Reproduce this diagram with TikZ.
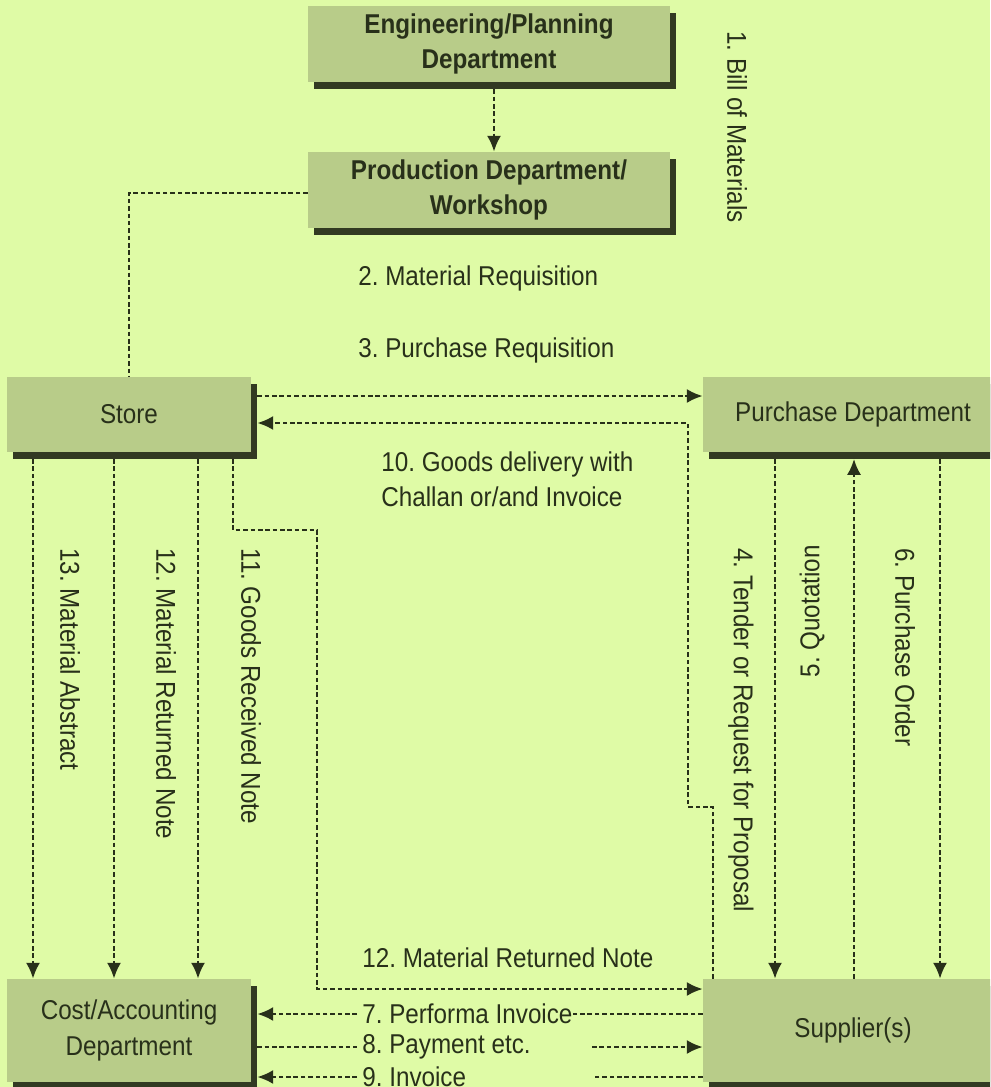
\documentclass[tikz,border=0pt]{standalone}
\usepackage{fontspec}
\setmainfont{Liberation Sans}[FakeStretch=0.89]
\usepackage{tikz}
\usetikzlibrary{positioning}
\usetikzlibrary{arrows.meta,shadows,calc}
\usepackage{xcolor}
\definecolor{bgcol}{RGB}{223,251,166}
\definecolor{boxcol}{RGB}{184,204,137}
\definecolor{shadecol}{RGB}{50,58,34}
\definecolor{inkcol}{RGB}{40,48,26}
\frenchspacing

\begin{document}
\begin{tikzpicture}[x=0.02cm,y=-0.02cm,
  font=\fontsize{15.5}{20}\selectfont,
  dept/.style={rectangle,fill=boxcol,text=inkcol,align=center,inner sep=0pt,
    drop shadow={shadow xshift=0.12cm,shadow yshift=-0.14cm,fill=shadecol,opacity=1}},
  head/.style={dept,font=\fontsize{15.5}{20}\selectfont\bfseries},
  flow/.style={draw=inkcol,line width=1.3pt,dash pattern=on 2.6pt off 1.6pt},
  tip/.style={flow,-{Latex[length=9pt,width=8pt]}},
  lbl/.style={text=inkcol,inner sep=0pt}]

\useasboundingbox (0,0) rectangle (990,1087);
\clip (0,0) rectangle (990,1087);
\fill[bgcol] (0,0) rectangle (990,1087);

\node[head,minimum width=7.24cm,minimum height=1.52cm] (eng) at (489,44) {Engineering/Planning\\Department};
\node[head,minimum width=7.24cm,minimum height=1.52cm] (prod) at (489,190) {Production Department/\\Workshop};
\node[dept,minimum width=4.88cm,minimum height=1.5cm] (store) at (129,414.5) {Store};
\node[dept,minimum width=6cm,minimum height=1.5cm] (purch) at (853,414.5) {Purchase Department};
\node[dept,minimum width=4.88cm,minimum height=2.06cm] (cost) at (129,1030.5) {Cost/Accounting\\Department};
\node[dept,minimum width=6cm,minimum height=2.06cm] (supp) at (853,1030.5) {Supplier(s)};

\node[lbl,rotate=-90,anchor=west] (bom) at (737,31) {1. Bill of Materials};
\node[lbl,anchor=west] (req2) at (358,278) {2. Material Requisition};
\node[lbl,anchor=west] (req3) at (358,350) {3. Purchase Requisition};
\node[lbl,anchor=west,align=left] (deliv) at (381,479) {10. Goods delivery with\\Challan or/and Invoice};
\node[lbl,rotate=-90,anchor=west] (abs13) at (70,548) {13. Material Abstract};
\node[lbl,rotate=-90,anchor=west] (ret12) at (166,548) {12. Material Returned Note};
\node[lbl,rotate=-90,anchor=west] (grn11) at (251,548) {11. Goods Received Note};
\node[lbl,rotate=-90,anchor=west] (rfp4) at (741,548) {4. Tender or Request for Proposal};
\node[lbl,rotate=90,anchor=east] (quo5) at (812,545) {5. Quotation};
\node[lbl,rotate=-90,anchor=west] (po6) at (905,548) {6. Purchase Order};
\node[lbl,anchor=west] (ret) at (362,958) {12. Material Returned Note};
\node[lbl,anchor=west] (n7) at (362,1014) {7. Performa Invoice};
\node[lbl,anchor=west] (n8) at (362,1047) {8. Payment etc.};
\node[lbl,anchor=west] (n9) at (362,1077) {9. Invoice};

\coordinate (storeR) at ([xshift=0.12cm]store.east);
\coordinate (costR) at ([xshift=0.12cm]cost.east);
\coordinate (engB) at ([xshift=0.1cm,yshift=-0.14cm]eng.south);
\coordinate (stepA) at (713,807);
\coordinate (stepB) at (688,807);
\coordinate (stepC) at (688,423);
\coordinate (p4) at (775,459);
\coordinate (p5) at (854,459);
\coordinate (p6) at (940,459);
\coordinate (s13) at (33,459);
\coordinate (s12) at (114,459);
\coordinate (s11) at (198,459);
\coordinate (r1) at (233,459);
\coordinate (r2) at (233,530);
\coordinate (r3) at (317,530);
\coordinate (r4) at (317,989);
\coordinate (gapL) at (357,0);
\coordinate (gapR) at (592,0);

\draw[tip] (engB) -- (engB |- prod.north);
\draw[flow] ([yshift=-0.06cm]prod.west) -| (store.north);
\draw[tip] ([yshift=0.37cm]storeR) -- ([yshift=0.37cm]purch.west);
\draw[tip] (stepA |- supp.north) -- (stepA) -- (stepB) -- (stepC) -- (storeR |- stepC);

\draw[tip] (p4) -- (p4 |- supp.north);
\draw[tip] (p5 |- supp.north) -- (p5);
\draw[tip] (p6) -- (p6 |- supp.north);

\foreach \s in {s13,s12,s11}
  \draw[tip] (\s) -- (\s |- cost.north);
\draw[tip] (r1) -- (r2) -- (r3) -- (r4) -- (r4 -| supp.west);

\draw[tip] (gapL |- n7) -- (costR |- n7);
\draw[flow] (supp.west |- n7) -- (n7.east);
\draw[flow] (costR |- n8) -- (gapL |- n8);
\draw[tip] (gapR |- n8) -- (supp.west |- n8);
\draw[tip] (gapL |- n9) -- (costR |- n9);
\draw[flow] (supp.west |- n9) -- (gapR |- n9);

\end{tikzpicture}
\end{document}
